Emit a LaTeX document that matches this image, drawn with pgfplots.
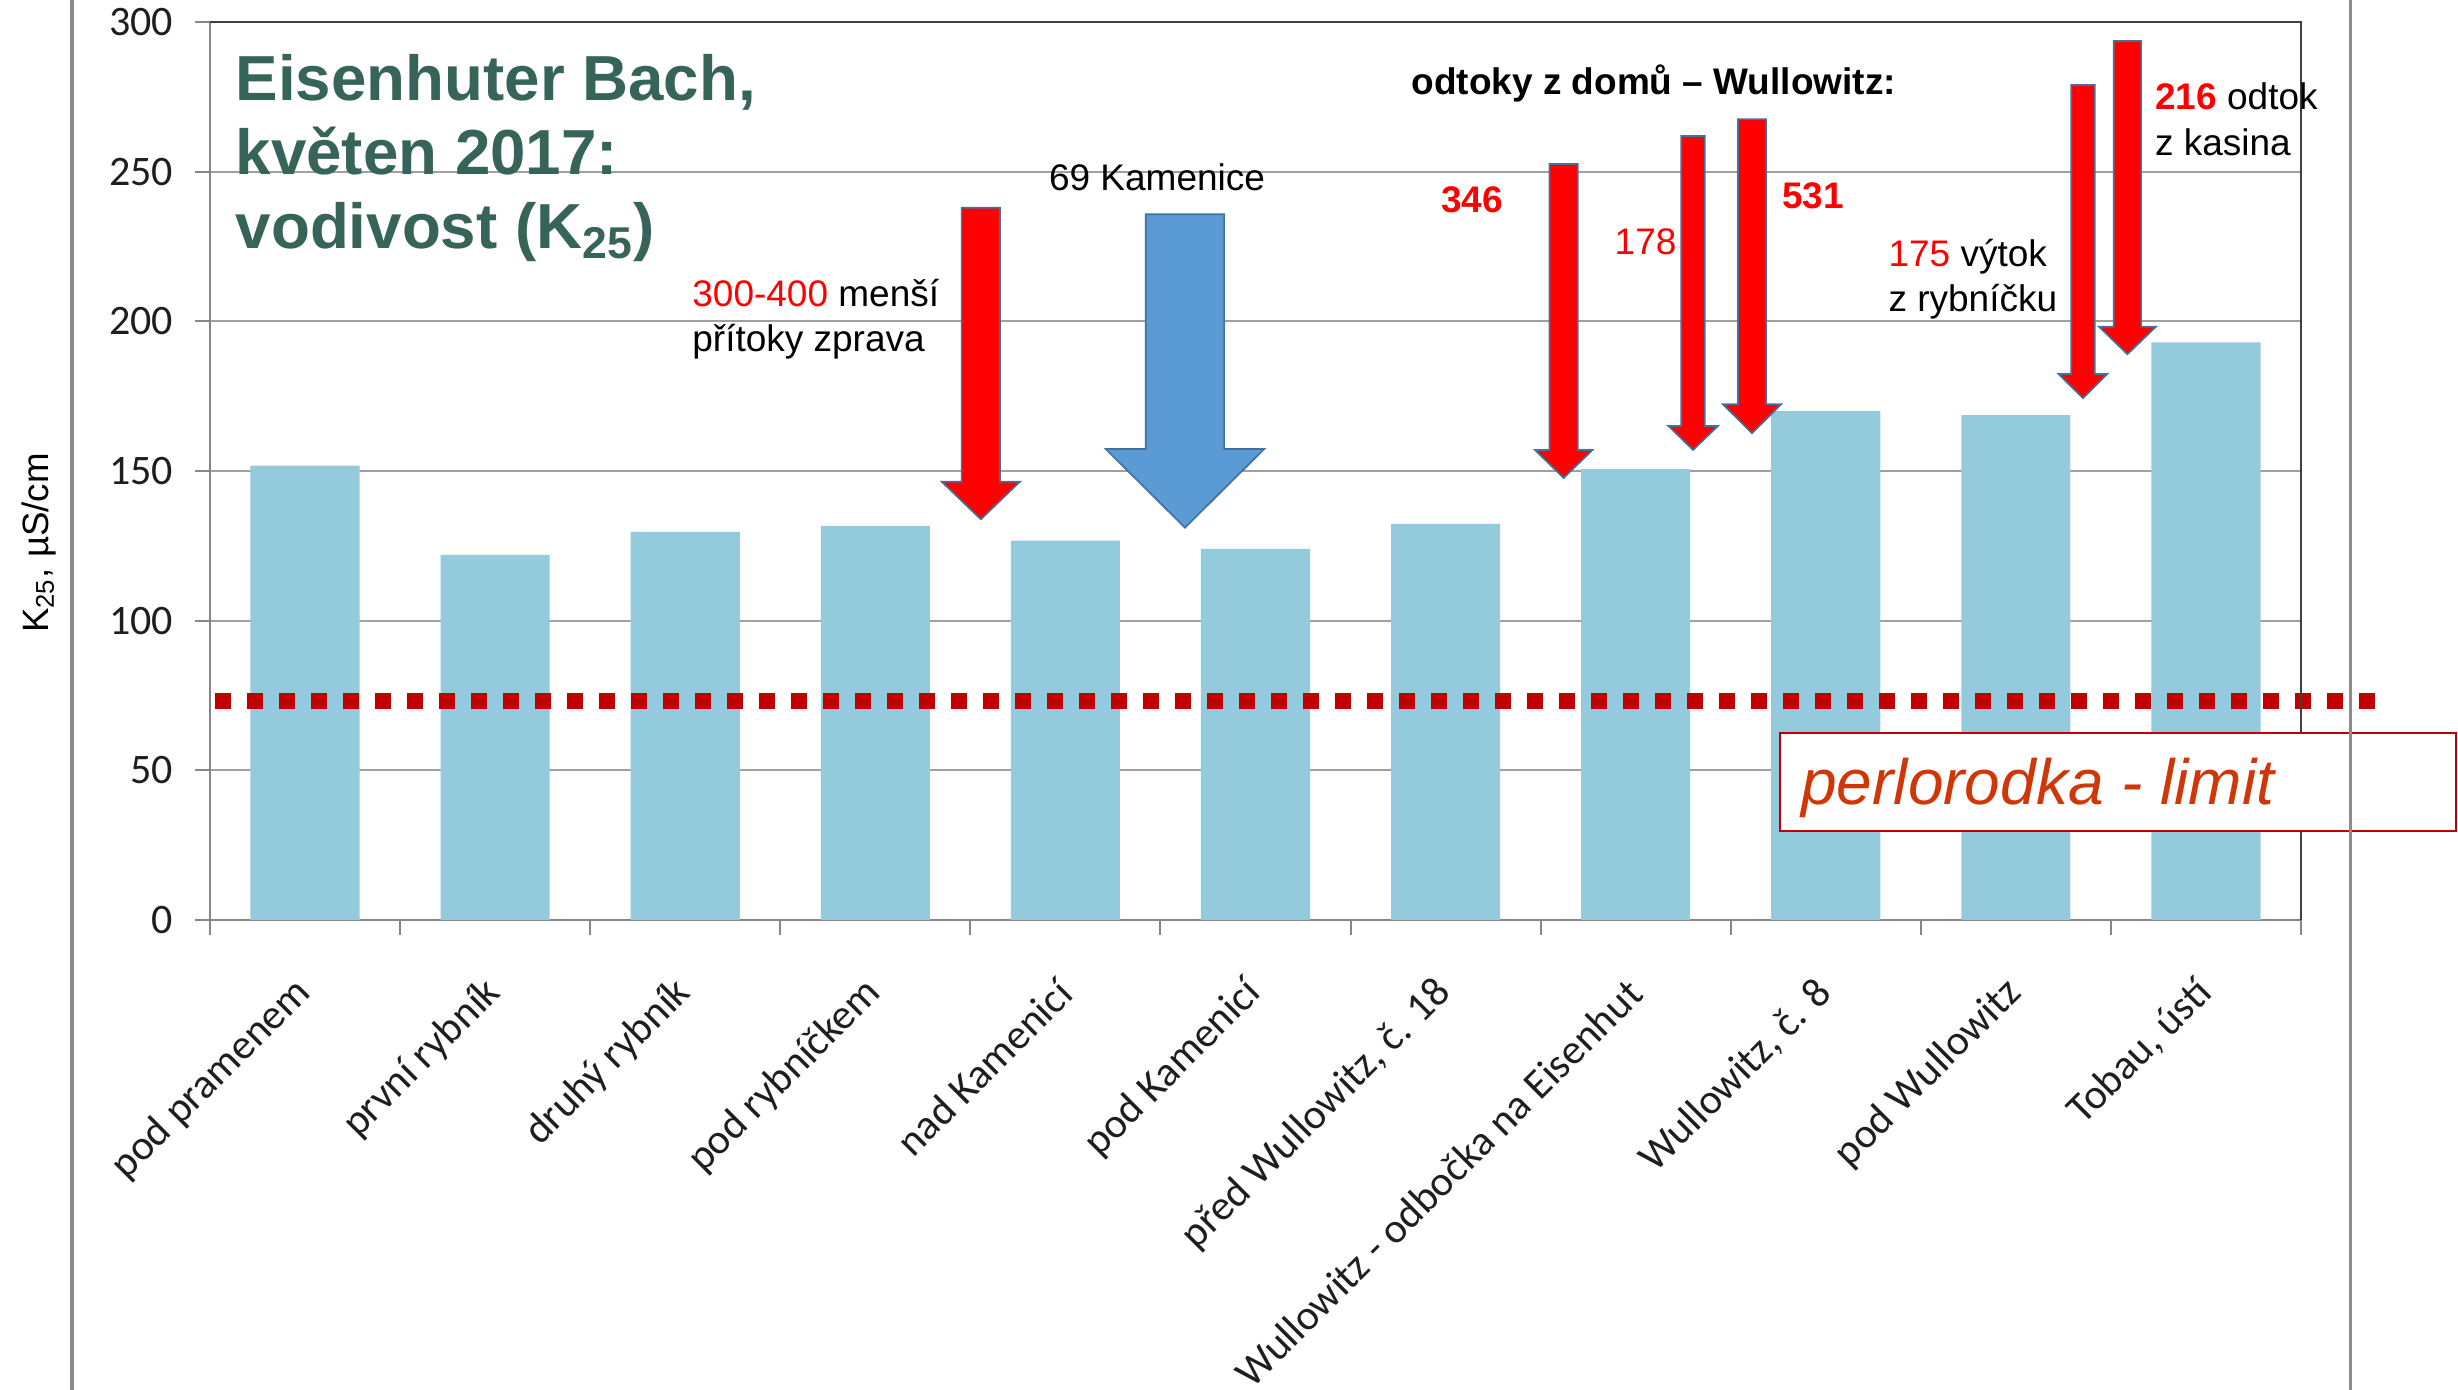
\documentclass[border=0pt]{standalone}
\usepackage{fontspec}
\setmainfont{Liberation Sans}
\newfontfamily\calibri{Carlito}
\usepackage{pgfplots}
\pgfplotsset{compat=1.18}

\definecolor{barblue}{RGB}{147,203,220}
\definecolor{titlegreen}{RGB}{54,100,89}
\definecolor{limitred}{RGB}{192,0,0}
\definecolor{limittext}{RGB}{207,55,8}
\definecolor{annred}{RGB}{255,0,0}
\definecolor{arrowblue}{RGB}{91,155,213}
\definecolor{arrowedge}{RGB}{65,113,156}
\definecolor{axisgray}{RGB}{134,134,134}
\definecolor{gridgray}{RGB}{160,160,160}
\definecolor{darkline}{RGB}{64,64,64}
\definecolor{framegray}{RGB}{140,140,140}
\definecolor{ticktext}{RGB}{30,30,30}

% block arrow pointing down: fill, shaft left, shaft right, top, head start, head left, head right, centre, tip
\newcommand{\blockarrow}[9]{%
  \filldraw[fill=#1, draw=arrowedge, line width=0.5pt, line join=miter]
    (axis cs:#2,#4) -- (axis cs:#3,#4) -- (axis cs:#3,#5) -- (axis cs:#7,#5)
    -- (axis cs:#8,#9) -- (axis cs:#6,#5) -- (axis cs:#2,#5) -- cycle;}

\newcommand{\annfont}{\fontsize{11.1}{13.5}\selectfont}

\begin{document}
\begin{tikzpicture}
\begin{axis}[
  at={(63pt,141pt)}, anchor=south west,
  x=57.027pt, y=0.89799pt,
  xmin=-0.5, xmax=10.5, ymin=0, ymax=300,
  clip=false,
  axis line style={draw=axisgray, line width=0.7pt},
  tick align=outside, tick pos=left,
  major tick length=4.5pt,
  tick style={draw=axisgray, line width=0.6pt},
  ytick={0,50,100,150,200,250,300},
  ymajorgrids, grid style={draw=gridgray, line width=0.6pt},
  yticklabel style={font=\calibri\fontsize{12.6}{14}\selectfont, text=ticktext,
    inner sep=0pt, anchor=east, xshift=-6.4pt},
  /pgf/number format/assume math mode=true,
  xtick={-0.5,0.5,1.5,2.5,3.5,4.5,5.5,6.5,7.5,8.5,9.5,10.5},
  xticklabels={,,,,,,,,,,,},
  extra x ticks={0,1,2,3,4,5,6,7,8,9,10},
  extra x tick labels={pod pramenem, první rybník, druhý rybník, pod rybníčkem,
    nad Kamenicí, pod Kamenicí, {před Wullowitz, č. 18},
    Wullowitz - odbočka na Eisenhut, {Wullowitz, č. 8}, pod Wullowitz, {Tobau, ústí}},
  extra x tick style={major tick length=0pt,
    xticklabel style={font=\calibri\fontsize{12.6}{14}\selectfont, text=ticktext,
      rotate=45, anchor=east, inner sep=0pt, xshift=-14.1pt, yshift=-14pt}},
]

% conductivity at the sampling sites
\addplot[ybar, bar width=0.574, fill=barblue, draw=none] coordinates {
  (0,151.8) (1,122.0) (2,129.7) (3,131.7) (4,126.7) (5,124.0)
  (6,132.3) (7,150.6) (8,170.0) (9,168.7) (10,193.0)};

% pearl mussel limit
\addplot[draw=limitred, line width=4.8pt, dash pattern=on 4.8pt off 4.8pt, line cap=butt]
  coordinates {(-0.4737,73) (10.889,73)};

% darker top and right frame
\draw[darkline, line width=0.7pt] (rel axis cs:0,1) -- (rel axis cs:1,1) -- (rel axis cs:1,0);

% inflow arrows
\blockarrow{annred}{3.454}{3.656}{237.96}{146.43}{3.349}{3.761}{3.555}{133.86}
\blockarrow{arrowblue}{4.423}{4.835}{235.76}{157.35}{4.212}{5.046}{4.629}{131.06}
\blockarrow{annred}{6.547}{6.695}{252.56}{157.02}{6.470}{6.773}{6.621}{147.66}
\blockarrow{annred}{7.240}{7.364}{261.92}{165.04}{7.172}{7.433}{7.302}{157.02}
\blockarrow{annred}{7.538}{7.686}{267.50}{172.28}{7.459}{7.765}{7.612}{162.60}
\blockarrow{annred}{9.291}{9.415}{278.95}{182.41}{9.225}{9.481}{9.353}{174.29}
\blockarrow{annred}{9.515}{9.659}{293.66}{198.21}{9.437}{9.737}{9.587}{188.99}

% title
\node[anchor=base west, inner sep=0pt, text=titlegreen, font=\fontsize{19.1}{22}\selectfont\bfseries]
  at (axis cs:-0.368,273.61) {Eisenhuter Bach,};
\node[anchor=base west, inner sep=0pt, text=titlegreen, font=\fontsize{19.1}{22}\selectfont\bfseries]
  at (axis cs:-0.368,248.99) {květen 2017:};
\node[anchor=base west, inner sep=0pt, text=titlegreen, font=\fontsize{19.1}{22}\selectfont\bfseries]
  at (axis cs:-0.368,224.37) {vodivost (K\textsubscript{25})};

% annotations
\node[anchor=base west, inner sep=0pt, font=\annfont] at (axis cs:2.034,204.89) {\textcolor{annred}{300-400} menší};
\node[anchor=base west, inner sep=0pt, font=\annfont] at (axis cs:2.034,189.86) {přítoky zprava};
\node[anchor=base, inner sep=0pt, font=\annfont] at (axis cs:4.482,243.64) {69 Kamenice};
\node[anchor=base west, inner sep=0pt, font=\annfont\bfseries] at (axis cs:5.817,275.62) {odtoky z domů – Wullowitz:};
\node[anchor=base west, inner sep=0pt, font=\annfont\bfseries, text=annred] at (axis cs:5.974,236.36) {346};
\node[anchor=base west, inner sep=0pt, font=\annfont, text=annred] at (axis cs:6.886,222.40) {178};
\node[anchor=base west, inner sep=0pt, font=\annfont\bfseries, text=annred] at (axis cs:7.767,237.53) {531};
\node[anchor=base west, inner sep=0pt, font=\annfont] at (axis cs:8.327,218.25) {\textcolor{annred}{175} výtok};
\node[anchor=base west, inner sep=0pt, font=\annfont] at (axis cs:8.327,203.22) {z rybníčku};
\node[anchor=base west, inner sep=0pt, font=\annfont] at (axis cs:9.729,270.60) {\textcolor{annred}{\bfseries 216} odtok};
\node[anchor=base west, inner sep=0pt, font=\annfont] at (axis cs:9.729,255.24) {z kasina};

% limit label
\filldraw[fill=white, draw=limitred, line width=0.7pt] (axis cs:7.759,29.83) rectangle (axis cs:11.316,62.37);
\node[anchor=base west, inner sep=0pt, text=limittext, font=\fontsize{19.2}{22}\selectfont\itshape]
  at (axis cs:7.868,38.42) {perlorodka - limit};

% y axis title
\node[rotate=90, anchor=center, inner sep=0pt, font=\fontsize{11}{13}\selectfont]
  at (axis cs:-1.400,125.95) {K\textsubscript{25}, µS/cm};
\end{axis}

% slide frame lines
\draw[framegray, line width=1.2pt] (21.6pt,0pt) -- (21.6pt,417pt);
\draw[framegray, line width=1.1pt] (705.15pt,0pt) -- (705.15pt,417pt);

\pgfresetboundingbox
\useasboundingbox (0pt,0pt) rectangle (737.4pt,417pt);
\end{tikzpicture}
\end{document}
